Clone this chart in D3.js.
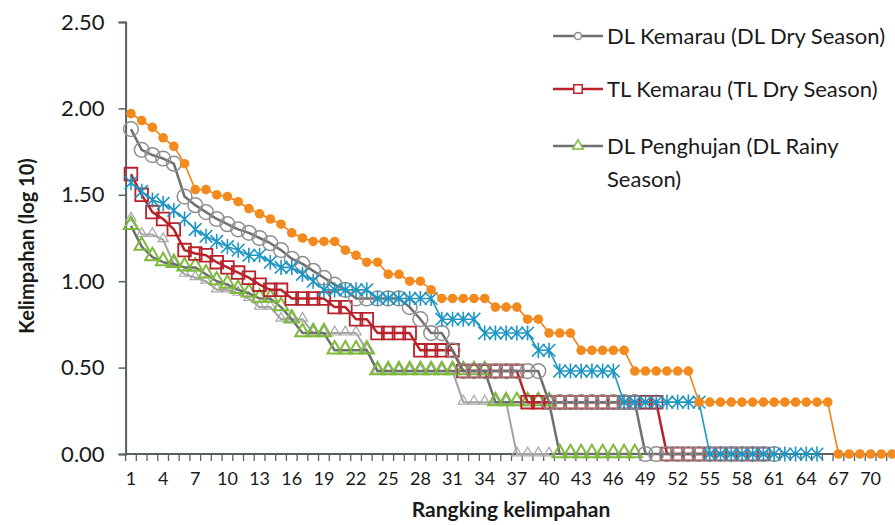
<!DOCTYPE html>
<html>
<head>
<meta charset="utf-8">
<script src="https://cdn.jsdelivr.net/npm/d3@7"></script>
<style>
  body { margin: 0; background: #fff; }
  svg text { font-family: Lato, "Open Sans", sans-serif; fill: #1a1a1a; }
</style>
</head>
<body>
<svg id="chart" width="895" height="525"></svg>
<script>
// rank of each species (x categories)
var ranks = d3.range(1, 73);
var xTickLabels = [1, 4, 7, 10, 13, 16, 19, 22, 25, 28, 31, 34, 37, 40, 43, 46, 49, 52, 55, 58, 61, 64, 67, 70];
var yTicks = [0, 0.5, 1, 1.5, 2, 2.5];

// log10 abundance per rank
var dlKemarau = [1.88,1.76,1.73,1.71,1.68,1.49,1.44,1.40,1.36,1.33,
  1.30,1.28,1.25,1.22,1.18,1.13,1.10,1.06,1.02,0.98,
  0.95,0.90,0.90,0.90,0.90,0.90,0.85,0.78,0.70,0.70,
  0.60,0.48,0.48,0.48,0.48,0.48,0.48,0.48,0.48,0.30,
  0.30,0.30,0.30,0.30,0.30,0.30,0.30,0.30,0,0,
  0,0,0,0,0,0,0,0,0,0,
  0];
var tlKemarau = [1.62,1.50,1.40,1.36,1.30,1.18,1.16,1.15,1.11,1.08,
  1.05,1.02,0.98,0.95,0.95,0.90,0.90,0.90,0.90,0.85,
  0.85,0.78,0.78,0.70,0.70,0.70,0.70,0.60,0.60,0.60,
  0.60,0.48,0.48,0.48,0.48,0.48,0.48,0.30,0.30,0.30,
  0.30,0.30,0.30,0.30,0.30,0.30,0.30,0.30,0.30,0.30,
  0,0,0,0,0,0,0,0,0,0];
var dlPenghujan = [1.32,1.20,1.14,1.11,1.10,1.08,1.08,1.04,1.00,0.98,
  0.95,0.93,0.90,0.90,0.85,0.78,0.70,0.70,0.70,0.60,
  0.60,0.60,0.60,0.48,0.48,0.48,0.48,0.48,0.48,0.48,
  0.48,0.48,0.48,0.48,0.30,0.30,0.30,0.30,0.30,0.30,
  0,0,0,0,0,0,0,0];
var tlPenghujan = [1.36,1.27,1.27,1.24,1.10,1.04,1.02,1.00,0.95,0.95,
  0.93,0.90,0.85,0.85,0.78,0.78,0.78,0.70,0.70,0.70,
  0.70,0.70,0.60,0.48,0.48,0.48,0.48,0.48,0.48,0.48,
  0.48,0.30,0.30,0.30,0.30,0.30,0,0,0,0];
var blueSeries = [1.57,1.52,1.47,1.45,1.41,1.36,1.30,1.26,1.23,1.20,
  1.18,1.15,1.15,1.11,1.08,1.08,1.04,1.00,0.95,0.95,
  0.95,0.95,0.95,0.90,0.90,0.90,0.90,0.90,0.90,0.78,
  0.78,0.78,0.78,0.70,0.70,0.70,0.70,0.70,0.60,0.60,
  0.48,0.48,0.48,0.48,0.48,0.48,0.30,0.30,0.30,0.30,
  0.30,0.30,0.30,0.30,0,0,0,0,0,0,
  0,0,0,0,0];
var orangeSeries = [1.97,1.93,1.89,1.83,1.78,1.68,1.53,1.53,1.50,1.49,
  1.46,1.42,1.39,1.36,1.33,1.28,1.25,1.23,1.23,1.23,
  1.18,1.15,1.11,1.11,1.04,1.04,1.00,1.00,0.95,0.90,
  0.90,0.90,0.90,0.90,0.85,0.85,0.85,0.78,0.78,0.70,
  0.70,0.70,0.60,0.60,0.60,0.60,0.60,0.48,0.48,0.48,
  0.48,0.48,0.48,0.30,0.30,0.30,0.30,0.30,0.30,0.30,
  0.30,0.30,0.30,0.30,0.30,0.30,0,0,0,0,
  0,0];

var legendNames = ["DL Kemarau (DL Dry Season)", "TL Kemarau (TL Dry Season)", "DL Penghujan (DL Rainy|Season)"];

var svg = d3.select("#chart");

var x = d3.scaleBand().domain(ranks).range([125.6, 897.4]);
var y = d3.scaleLinear().domain([0, 2.5]).range([454, 22]);
var cx = function (d, i) { return x(i + 1) + x.bandwidth() / 2; };

// axes
var axisColor = "#56615f";
var yAxis = svg.append("g")
    .attr("transform", "translate(" + x.range()[0] + ",0)")
    .call(d3.axisLeft(y).tickValues(yTicks).tickSize(7).tickPadding(14).tickFormat(d3.format(".2f")));
yAxis.select(".domain").attr("stroke", axisColor).attr("stroke-width", 2);
yAxis.selectAll(".tick line").attr("stroke", axisColor).attr("stroke-width", 1.5);
yAxis.selectAll(".tick text").style("font-size", "22px").style("font-family", "Lato, sans-serif").attr("fill", "#1a1a1a");

var xg = svg.append("g");
xg.append("line")
    .attr("x1", x.range()[0]).attr("x2", 895)
    .attr("y1", y(0)).attr("y2", y(0))
    .attr("stroke", axisColor).attr("stroke-width", 2);
xg.selectAll(".xt").data(ranks).enter().append("line")
    .attr("x1", function (d) { return x(d); }).attr("x2", function (d) { return x(d); })
    .attr("y1", y(0)).attr("y2", y(0) + 7)
    .attr("stroke", axisColor).attr("stroke-width", 1.3);
xg.selectAll(".xl").data(xTickLabels).enter().append("text")
    .attr("x", function (d) { return x(d) + x.bandwidth() / 2; })
    .attr("y", 485)
    .attr("text-anchor", "middle")
    .style("font-size", "18px")
    .text(function (d) { return d; });

svg.append("text")
    .attr("x", 511).attr("y", 517)
    .attr("text-anchor", "middle")
    .style("font-size", "21px").style("font-weight", "bold")
    .text("Rangking kelimpahan");
svg.append("text")
    .attr("transform", "translate(34,246) rotate(-90)")
    .attr("text-anchor", "middle")
    .style("font-size", "20px").style("font-weight", "bold")
    .text("Kelimpahan  (log 10)");

var line = d3.line().x(cx).y(function (d) { return y(d); });

function drawSeries(data, lineColor, lineWidth) {
    svg.append("path").datum(data)
        .attr("d", line)
        .attr("fill", "none")
        .attr("stroke", lineColor)
        .attr("stroke-width", lineWidth)
        .attr("stroke-linejoin", "round");
    return svg.append("g");
}

var triangle = d3.symbol().type(d3.symbolTriangle);
var square = d3.symbol().type(d3.symbolSquare);
var circle = d3.symbol().type(d3.symbolCircle);
function star(s) {
    return "M" + (-s) + "," + (-s) + "L" + s + "," + s +
        "M" + (-s) + "," + s + "L" + s + "," + (-s) +
        "M0," + (-s * 1.2) + "L0," + (s * 1.2);
}

// TL Penghujan - light grey, small triangles
drawSeries(tlPenghujan, "#a3a3a3", 2)
    .selectAll("path").data(tlPenghujan).enter().append("path")
    .attr("d", triangle.size(45)())
    .attr("transform", function (d, i) { return "translate(" + cx(d, i) + "," + (y(d) - 1) + ")"; })
    .attr("fill", "none").attr("stroke", "#a8a8a8").attr("stroke-width", 1.2);

// DL Penghujan - grey line, green triangles
drawSeries(dlPenghujan, "#6f6f6f", 2.5)
    .selectAll("path").data(dlPenghujan).enter().append("path")
    .attr("d", triangle.size(90)())
    .attr("transform", function (d, i) { return "translate(" + cx(d, i) + "," + (y(d) - 1) + ")"; })
    .attr("fill", "none").attr("stroke", "#7dba3a").attr("stroke-width", 2);

// TL Kemarau - red squares
drawSeries(tlKemarau, "#b8232b", 2.5)
    .selectAll("path").data(tlKemarau).enter().append("path")
    .attr("d", square.size(160)())
    .attr("transform", function (d, i) { return "translate(" + cx(d, i) + "," + y(d) + ")"; })
    .attr("fill", "none").attr("stroke", "#b8232b").attr("stroke-width", 1.8);

// DL Kemarau - grey circles
drawSeries(dlKemarau, "#6f6f6f", 2.5)
    .selectAll("path").data(dlKemarau).enter().append("path")
    .attr("d", circle.size(170)())
    .attr("transform", function (d, i) { return "translate(" + cx(d, i) + "," + y(d) + ")"; })
    .attr("fill", "none").attr("stroke", "#8f8f8f").attr("stroke-width", 1.5);

// blue asterisks
drawSeries(blueSeries, "#1e96c3", 1.6)
    .selectAll("path").data(blueSeries).enter().append("path")
    .attr("d", star(6.3))
    .attr("transform", function (d, i) { return "translate(" + cx(d, i) + "," + y(d) + ")"; })
    .attr("fill", "none").attr("stroke", "#1e96c3").attr("stroke-width", 1.6);

// orange filled dots
drawSeries(orangeSeries, "#f0821a", 1.6)
    .selectAll("circle").data(orangeSeries).enter().append("circle")
    .attr("cx", cx).attr("cy", function (d) { return y(d); })
    .attr("r", 4.8)
    .attr("fill", "#f28a1e");

// legend
var legendItems = [
    {line: "#6f6f6f", marker: "circle", color: "#8f8f8f", y: 36},
    {line: "#b8232b", marker: "square", color: "#b8232b", y: 89},
    {line: "#6f6f6f", marker: "triangle", color: "#7dba3a", y: 146}
];
var lg = svg.append("g");
legendItems.forEach(function (it, k) {
    lg.append("line").attr("x1", 553).attr("x2", 603).attr("y1", it.y).attr("y2", it.y)
        .attr("stroke", it.line).attr("stroke-width", 2.5);
    var m = it.marker === "circle" ? circle.size(40)() : it.marker === "square" ? square.size(70)() : triangle.size(50)();
    lg.append("path").attr("d", m).attr("transform", "translate(578," + it.y + ")")
        .attr("fill", "#fff").attr("stroke", it.color).attr("stroke-width", 1.5);
    var parts = legendNames[k].split("|");
    parts.forEach(function (p, j) {
        lg.append("text").attr("x", 607).attr("y", it.y + 8 + j * 33)
            .style("font-size", "22px").text(p);
    });
});
</script>
</body>
</html>
